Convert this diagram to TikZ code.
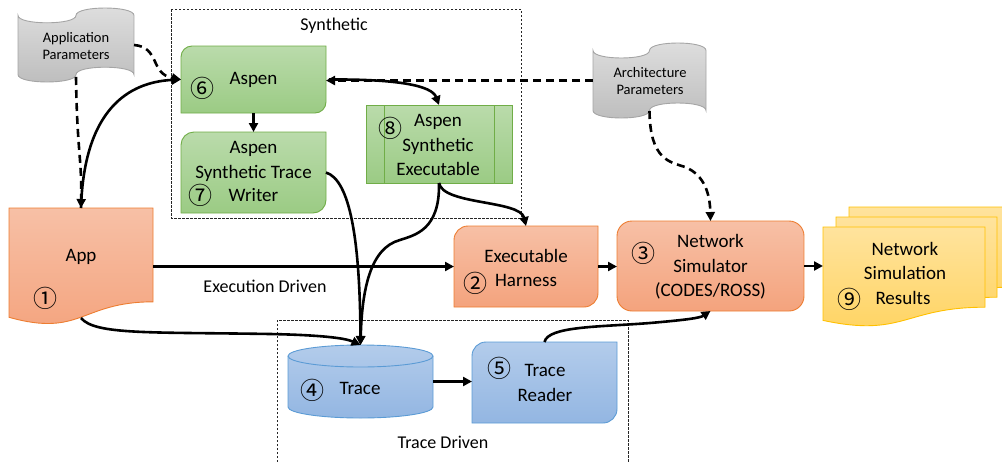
\documentclass[tikz,border=0pt]{standalone}
\usepackage{fontspec}
\setmainfont{Carlito}
\newfontfamily\cjk{Noto Sans CJK SC}
\usetikzlibrary{arrows.meta,calc}

\definecolor{orgtop}{HTML}{F7C0A6}
\definecolor{orgbot}{HTML}{F4A37D}
\definecolor{orgline}{HTML}{ED7D31}
\definecolor{grntop}{HTML}{BADBAB}
\definecolor{grnbot}{HTML}{9BCB84}
\definecolor{grnline}{HTML}{70AD47}
\definecolor{blutop}{HTML}{B3CCEB}
\definecolor{blubot}{HTML}{93B6E2}
\definecolor{bluline}{HTML}{5B9BD5}
\definecolor{yeltop}{HTML}{FFE39D}
\definecolor{yelbot}{HTML}{FFD35F}
\definecolor{yelline}{HTML}{FFC000}
\definecolor{grytop}{HTML}{DEDEDE}
\definecolor{grybot}{HTML}{BDBDBD}
\definecolor{gryline}{HTML}{A5A5A5}

\tikzset{
  orangeshp/.style={draw=orgline, line width=0.9pt, top color=orgtop, bottom color=orgbot},
  greenshp/.style={draw=grnline, line width=0.9pt, top color=grntop, bottom color=grnbot},
  blueshp/.style={draw=bluline, line width=0.9pt, top color=blutop, bottom color=blubot},
  yellowshp/.style={draw=yelline, line width=0.9pt, top color=yeltop, bottom color=yelbot},
  grayshp/.style={draw=gryline, line width=0.9pt, top color=grytop, bottom color=grybot},
  anchorbox/.style={anchor=north west, inner sep=0, outer sep=0},
  lbl/.style={font=\fontsize{19}{24.5}\selectfont, align=center, inner sep=0},
  sml/.style={font=\fontsize{14.5}{17.5}\selectfont, align=center, inner sep=0},
  grplbl/.style={font=\fontsize{18}{20}\selectfont, inner sep=0},
  num/.style={font=\cjk\fontsize{24}{24}\selectfont, inner sep=0},
  grpbox/.style={draw=black!85, line width=0.8pt, dash pattern=on 2.5pt off 1.5pt},
  arr/.style={line width=2.6pt, -{Triangle[length=9pt,width=9pt]}},
  darr/.style={arr, dash pattern=on 8pt off 5pt},
}

% document shape with a wavy lower edge: name, x0, y0, w, h, style
\newcommand\docshp[6]{%
  \draw[#6] (#2,#3) -- ({#2+#4},#3) -- ({#2+#4},{#3+0.802*#5})
    .. controls ({#2+0.5*#4},{#3+0.802*#5}) and ({#2+0.5*#4},{#3+1.1075*#5}) .. (#2,{#3+0.934*#5}) -- cycle;
  \node[anchorbox, minimum width=#4pt, minimum height=#5pt] (#1) at (#2,#3) {};}

% punched tape shape: name, x0, y0, w, h, style
\newcommand\tapeshp[6]{%
  \draw[#6] (#2,{#3+0.1*#5})
    .. controls (#2,{#3+0.2333*#5}) and ({#2+0.5*#4},{#3+0.2333*#5}) .. ({#2+0.5*#4},{#3+0.1*#5})
    .. controls ({#2+0.5*#4},{#3-0.0333*#5}) and ({#2+#4},{#3-0.0333*#5}) .. ({#2+#4},{#3+0.1*#5})
    -- ({#2+#4},{#3+0.9*#5})
    .. controls ({#2+#4},{#3+0.7667*#5}) and ({#2+0.5*#4},{#3+0.7667*#5}) .. ({#2+0.5*#4},{#3+0.9*#5})
    .. controls ({#2+0.5*#4},{#3+1.0333*#5}) and (#2,{#3+1.0333*#5}) .. (#2,{#3+0.9*#5}) -- cycle;
  \node[anchorbox, minimum width=#4pt, minimum height=#5pt] (#1) at (#2,#3) {};}

% rectangle with two diagonal rounded corners: name, x0, y0, w, h, r, style
\newcommand\diagshp[7]{%
  \draw[#7] (#2,{#3+#5}) -- (#2,{#3+#6})
    .. controls (#2,{#3+0.448*#6}) and ({#2+0.448*#6},#3) .. ({#2+#6},#3)
    -- ({#2+#4},#3) -- ({#2+#4},{#3+#5-#6})
    .. controls ({#2+#4},{#3+#5-0.448*#6}) and ({#2+#4-0.448*#6},{#3+#5}) .. ({#2+#4-#6},{#3+#5}) -- cycle;
  \node[anchorbox, minimum width=#4pt, minimum height=#5pt] (#1) at (#2,#3) {};}

\begin{document}
\begin{tikzpicture}[x=1pt, y=-1pt]
\useasboundingbox (0,0) rectangle (1002,461);

% group frames
\draw[grpbox] (171,9) rectangle (521,218);
\draw[grpbox] (277,470) -- (277,320) -- (628,320) -- (628,470);
\node[grplbl] (synlbl) at (334,26) {Synthetic};
\node[grplbl] (trdlbl) at (443,442) {Trace Driven};

% parameter inputs
\tapeshp{ap}{18}{8}{116}{74}{grayshp}
\node[sml] (apt) at (76,46) {Application\\Parameters};
\tapeshp{arch}{593}{43}{113}{75}{grayshp}
\node[sml] (archt) at (650,81) {Architecture\\Parameters};

% synthetic path
\diagshp{aspen}{181}{46}{145}{67}{11}{greenshp}
\node[lbl] (aspent) at (253.5,80) {Aspen};
\node[num] (n6) at (202,88) {⑥};

\diagshp{writer}{181}{132}{145}{81}{13}{greenshp}
\node[lbl] (writert) at (253.5,172) {Aspen\\Synthetic Trace\\\phantom{Writer}};
\node[lbl] (writert2) at (253.5,195) {Writer};
\node[num] (n7) at (200,195) {⑦};

\draw[greenshp] (366,105) rectangle (512,183);
\draw[draw=grnline, line width=0.9pt] (384,105) -- (384,183) (494,105) -- (494,183);
\node[anchorbox, minimum width=146pt, minimum height=78pt] (exe) at (366,105) {};
\node[lbl] (exet) at (438,145) {Aspen\\Synthetic\\Executable};
\node[num] (n8) at (390,128) {⑧};

% application
\docshp{app}{9}{208}{144}{117}{orangeshp}
\node[lbl] (appt) at (81,257) {App};
\node[num] (n1) at (45,298) {①};

% execution driven path
\diagshp{harness}{454}{226}{144}{81}{14}{orangeshp}
\node[lbl] (harnesst) at (526,268) {Executable\\Harness};
\node[num] (n2) at (475,283) {②};

\node[anchorbox, orangeshp, rounded corners=15pt, minimum width=187pt, minimum height=90pt] (netsim) at (617,221) {};
\node[lbl] (netsimt) at (710.5,267) {Network\\Simulator\\(CODES/ROSS)};
\node[num] (n3) at (643,253) {③};

% results stack
\docshp{res3}{849}{207}{162}{100}{yellowshp}
\docshp{res2}{836}{217}{161}{100}{yellowshp}
\docshp{res}{823}{227}{162}{100}{yellowshp}
\node[lbl] (rest) at (905,273) {Network\\Simulation\\\phantom{Results}};
\node[lbl] (rest2) at (903,298) {Results};
\node[num] (n9) at (849,299) {⑨};

% trace driven path
\draw[blueshp] (288,356) -- (288,407)
  .. controls (288,413.07) and (320.5,418) .. (360.5,418)
  .. controls (400.5,418) and (433,413.07) .. (433,407) -- (433,356)
  .. controls (433,349.93) and (400.5,345) .. (360.5,345)
  .. controls (320.5,345) and (288,349.93) .. (288,356) -- cycle;
\draw[draw=bluline, line width=0.9pt] (288,356)
  .. controls (288,362.07) and (320.5,367) .. (360.5,367)
  .. controls (400.5,367) and (433,362.07) .. (433,356);
\node[anchorbox, minimum width=145pt, minimum height=73pt] (trace) at (288,345) {};
\node[lbl] (tracet) at (360,388) {Trace};
\node[num] (n4) at (312,390) {④};

\diagshp{reader}{472}{342}{145}{81}{14}{blueshp}
\node[lbl] (readert) at (545,383) {Trace\\Reader};
\node[num] (n5) at (499,368) {⑤};

% connectors
\draw[darr] ([yshift=5pt]ap.south) .. controls (77,150) and (82,160) .. (app.north);
\draw[darr] (ap.east) .. controls (160,47) and (150,74) .. (aspen.west);
\draw[arr] (app.north) .. controls (84,110) and (128,82) .. (aspen.west);
\draw[arr] (aspen.south) -- (writer.north);
\draw[darr] (arch.west) -- (arch.west -| aspen.east);
\draw[arr] ([xshift=3pt]aspen.east) .. controls (400,79) and (432,86) .. (exe.north);
\draw[darr] ([yshift=7pt]arch.south) .. controls (650,160) and (670,162) .. (685,167)
  .. controls (705,175) and (710,195) .. (netsim.north);
\draw[arr] (writer.east) .. controls (350,180) and (360,240) .. (trace.north);
\draw[arr] (exe.south) .. controls (440,230) and (415,235) .. (400,240)
  .. controls (370,248) and (362,290) .. (trace.north);
\draw[arr] (exe.south) .. controls (443,205) and (520,200) .. (harness.north);
\draw[arr] (app.east) -- (harness.west);
\node[grplbl] (exdlbl) at (265,286) {Execution Driven};
\draw[arr] ([yshift=7pt]app.south) .. controls (95,335) and (150,332) .. (270,334)
  .. controls (320,335) and (345,338) .. (trace.north);
\draw[arr] (harness.east) -- (harness.east -| netsim.west);
\draw[arr] (netsim.east) -- (netsim.east -| res.west);
\draw[arr] (trace.east) -- (trace.east -| reader.west);
\draw[arr] (reader.north) .. controls (548,326) and (600,327) .. (650,323)
  .. controls (685,320) and (700,318) .. (netsim.south);
\end{tikzpicture}
\end{document}
